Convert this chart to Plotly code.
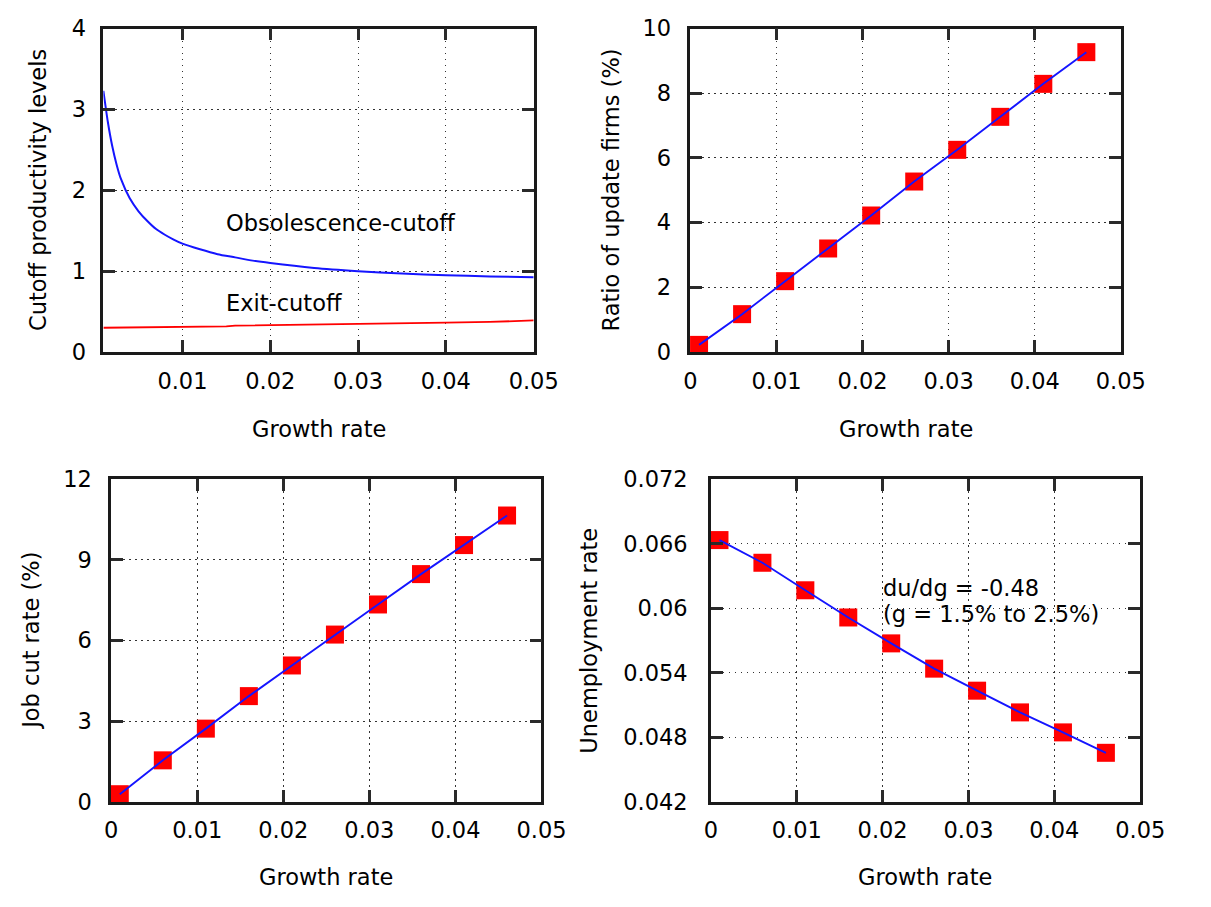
import plotly.graph_objects as go

W, H = 1211, 907
FONT = "DejaVu Sans"
FS = 22.5

# ---------------- data ----------------
# Panel 1: cutoff productivity levels
g_obs = [0.001, 0.0015, 0.002, 0.0025, 0.003, 0.004, 0.005, 0.006, 0.007, 0.008, 0.009,
         0.010, 0.012, 0.014, 0.016, 0.018, 0.020, 0.025, 0.030, 0.035, 0.040, 0.045, 0.050]
obsolescence_cutoff = [3.23, 2.85, 2.55, 2.32, 2.14, 1.90, 1.74, 1.62, 1.52, 1.45, 1.39,
                       1.34, 1.27, 1.21, 1.17, 1.13, 1.10, 1.04, 1.00, 0.97, 0.95, 0.935, 0.925]
g_exit = [0.001, 0.003, 0.0035, 0.010, 0.015, 0.016, 0.020, 0.025, 0.030, 0.035, 0.040, 0.045, 0.050]
exit_cutoff = [0.300, 0.302, 0.310, 0.312, 0.318, 0.325, 0.330, 0.338, 0.345, 0.352, 0.362, 0.372, 0.390]

# Panels 2-4: simulated points
growth = [0.001, 0.006, 0.011, 0.016, 0.021, 0.026, 0.031, 0.036, 0.041, 0.046]
update_ratio = [0.22, 1.17, 2.19, 3.20, 4.22, 5.27, 6.25, 7.27, 8.29, 9.27]
job_cut_rate = [0.28, 1.54, 2.72, 3.93, 5.07, 6.22, 7.34, 8.47, 9.55, 10.65]
unemployment = [0.06634, 0.06423, 0.06167, 0.05914, 0.05673, 0.05438, 0.05233, 0.05031, 0.04845, 0.04655]

# tick labels
x_ticks_p1 = [0.01, 0.02, 0.03, 0.04, 0.05]
x_ticklabels_p1 = ["0.01", "0.02", "0.03", "0.04", "0.05"]
x_ticks = [0, 0.01, 0.02, 0.03, 0.04, 0.05]
x_ticklabels = ["0", "0.01", "0.02", "0.03", "0.04", "0.05"]
y_ticks_p1 = [0, 1, 2, 3, 4]
y_ticks_p2 = [0, 2, 4, 6, 8, 10]
y_ticks_p3 = [0, 3, 6, 9, 12]
y_ticks_p4 = [0.042, 0.048, 0.054, 0.06, 0.066, 0.072]
y_ticklabels_p4 = ["0.042", "0.048", "0.054", "0.06", "0.066", "0.072"]

BLUE = "#1515ff"
RED = "#ff0000"

fig = go.Figure()

# Panel 1
fig.add_trace(go.Scatter(x=g_obs, y=obsolescence_cutoff, mode="lines", line=dict(color=BLUE, width=2, shape="spline", smoothing=0.6),
                         xaxis="x", yaxis="y", showlegend=False))
fig.add_trace(go.Scatter(x=g_exit, y=exit_cutoff, mode="lines", line=dict(color=RED, width=1.8),
                         xaxis="x", yaxis="y", showlegend=False))

# Panels 2-4
for ys, xa, ya in [(update_ratio, "x2", "y2"), (job_cut_rate, "x3", "y3"), (unemployment, "x4", "y4")]:
    fig.add_trace(go.Scatter(x=growth, y=ys, mode="markers",
                             marker=dict(symbol="square", size=18, color=RED, line=dict(width=0)),
                             cliponaxis=False, xaxis=xa, yaxis=ya, showlegend=False))
    fig.add_trace(go.Scatter(x=growth, y=ys, mode="lines", line=dict(color=BLUE, width=1.9),
                             cliponaxis=False, xaxis=xa, yaxis=ya, showlegend=False))


def px_x(a, b):
    return [a / W, b / W]


def px_y(top, bottom):
    return [1 - bottom / H, 1 - top / H]


def axis(domain, rng, tickvals, ticktext, anchor, standoff):
    return dict(domain=domain, range=rng, tickvals=tickvals, ticktext=ticktext, anchor=anchor,
                showline=True, linecolor="#1a1a1a", linewidth=2.5, mirror="allticks",
                ticks="inside", ticklen=12, tickwidth=2.5, tickcolor="#2a2a2a",
                showgrid=True, gridcolor="#333333", griddash="1.5px,4.5px", gridwidth=1,
                zeroline=False, tickfont=dict(family=FONT, size=FS, color="#000000"),
                ticklabelstandoff=standoff, fixedrange=True)


fig.update_layout(
    width=W, height=H, margin=dict(l=0, r=0, t=0, b=0),
    paper_bgcolor="white", plot_bgcolor="white", showlegend=False,
    xaxis=axis(px_x(99, 541), [0.001, 0.05], x_ticks_p1, x_ticklabels_p1, "y", 7),
    yaxis=axis(px_y(16, 349), [0, 4], y_ticks_p1, [str(v) for v in y_ticks_p1], "x", 10),
    xaxis2=axis(px_x(702, 1144), [0, 0.05], x_ticks, x_ticklabels, "y2", 7),
    yaxis2=axis(px_y(16, 349), [0, 10], y_ticks_p2, [str(v) for v in y_ticks_p2], "x2", 12),
    xaxis3=axis(px_x(107, 549), [0, 0.05], x_ticks, x_ticklabels, "y3", 7),
    yaxis3=axis(px_y(480, 812), [0, 12], y_ticks_p3, [str(v) for v in y_ticks_p3], "x3", 12),
    xaxis4=axis(px_x(723, 1164), [0, 0.05], x_ticks, x_ticklabels, "y4", 7),
    yaxis4=axis(px_y(480, 812), [0.042, 0.072], y_ticks_p4, y_ticklabels_p4, "x4", 16),
)

TF = dict(family=FONT, size=FS, color="#000000")
annotations = []
# x-axis titles
for cx, cy in [(320, 428), (923, 428), (328, 889), (943, 889)]:
    annotations.append(dict(text="Growth rate", x=cx / W, y=1 - cy / H, xref="paper", yref="paper",
                            showarrow=False, xanchor="center", yanchor="middle", font=TF))
# y-axis titles
for txt, cx, cy in [("Cutoff productivity levels", 32, 182), ("Ratio of update firms (%)", 620, 182),
                    ("Job cut rate (%)", 25, 646), ("Unemployment rate", 598, 646)]:
    annotations.append(dict(text=txt, x=cx / W, y=1 - cy / H, xref="paper", yref="paper", textangle=-90,
                            showarrow=False, xanchor="center", yanchor="middle", font=TF))
# in-plot labels
annotations.append(dict(text="Obsolescence-cutoff", x=0.0147, y=1.60, xref="x", yref="y", showarrow=False,
                        xanchor="left", yanchor="middle", font=TF))
annotations.append(dict(text="Exit-cutoff", x=0.0147, y=0.61, xref="x", yref="y", showarrow=False,
                        xanchor="left", yanchor="middle", font=TF))
annotations.append(dict(text="du/dg = -0.48", x=0.0198, y=0.0619, xref="x4", yref="y4", showarrow=False,
                        xanchor="left", yanchor="middle", font=TF))
annotations.append(dict(text="(g = 1.5% to 2.5%)", x=0.0198, y=0.0595, xref="x4", yref="y4", showarrow=False,
                        xanchor="left", yanchor="middle", font=TF))
fig.update_layout(annotations=annotations)

fig.write_html("out.html")
